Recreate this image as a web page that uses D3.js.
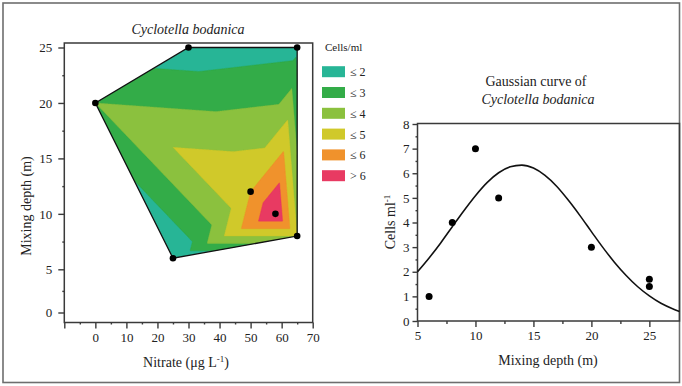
<!DOCTYPE html>
<html>
<head>
<meta charset="utf-8">
<script src="https://cdn.jsdelivr.net/npm/d3@7"></script>
<style>
  html, body { margin: 0; padding: 0; background: #fff; }
  svg { display: block; }
  text { font-family: "Liberation Serif", "Times New Roman", serif; fill: #222; }
</style>
</head>
<body>
<svg id="chart" width="682" height="386"></svg>
<script>
// Field samples: nitrate, mixing depth and cell density
const sampleNitrate = [25, 65, 58, 50, 0, 30, 65];
const sampleDepth   = [6, 8, 10, 12, 20, 25, 25];
const sampleCells   = [1, 4, 7, 5, 3, 1.4, 1.7];

// Contour classes (cells/ml)
const classThresholds = [2, 3, 4, 5, 6];
const classLabels = ["\u2264 2", "\u2264 3", "\u2264 4", "\u2264 5", "\u2264 6", "> 6"];
const classColors = ["#27b596", "#33ac48", "#8bc13e", "#d0c92a", "#f0922c", "#e83a62"];

// Fitted Gaussian response of cell density to mixing depth
const curveDepth = [5, 6, 7, 8, 9, 10, 11, 12, 13, 14, 15, 16, 17, 18, 19, 20, 21, 22, 23, 24, 25, 26, 27, 27.6];
const curveCells = [2.00, 2.56, 3.17, 3.83, 4.48, 5.09, 5.62, 6.02, 6.26, 6.33, 6.21, 5.91, 5.47, 4.91, 4.29, 3.63, 2.98, 2.38, 1.85, 1.39, 1.02, 0.72, 0.50, 0.39];

// Axis ticks
const mapXTicks = [-10, 0, 10, 20, 30, 40, 50, 60, 70];
const mapYTicks = [0, 5, 10, 15, 20, 25];
const fitXTicks = [5, 10, 15, 20, 25];
const fitYTicks = [0, 1, 2, 3, 4, 5, 6, 7, 8];

const svg = d3.select("#chart");

// outer border
svg.append("rect").attr("x", 3).attr("y", 3).attr("width", 676.5).attr("height", 379.5)
  .attr("fill", "none").attr("stroke", "#6e6e6e").attr("stroke-width", 1.6);

/* ---------------- Left panel: contour map ---------------- */
const mx = d3.scaleLinear().domain([-10, 70]).range([64.3, 312.7]);
const my = d3.scaleLinear().domain([0, 5, 25]).range([312.5, 269.3, 47.5]);
const mapFrame = { x0: 64.3, x1: 312.7, y0: 43, y1: 322.5 };

const pts = sampleNitrate.map((n, i) => [n, sampleDepth[i]]);
// triangulate in plotted (screen) space so both axes weigh alike
const ptsPx = pts.map(([x, y]) => [mx(x), my(y)]);
const delaunay = d3.Delaunay.from(ptsPx);
const tris = delaunay.triangles;

// linear interpolation over the triangulated samples (screen coordinates)
function fieldAt(x, y) {
  let best = null, bestMin = -Infinity;
  for (let t = 0; t < tris.length; t += 3) {
    const a = tris[t], b = tris[t + 1], c = tris[t + 2];
    const [x1, y1] = ptsPx[a], [x2, y2] = ptsPx[b], [x3, y3] = ptsPx[c];
    const det = (y2 - y3) * (x1 - x3) + (x3 - x2) * (y1 - y3);
    const l1 = ((y2 - y3) * (x - x3) + (x3 - x2) * (y - y3)) / det;
    const l2 = ((y3 - y1) * (x - x3) + (x1 - x3) * (y - y3)) / det;
    const l3 = 1 - l1 - l2;
    const mn = Math.min(l1, l2, l3);
    if (mn > bestMin) {
      bestMin = mn;
      best = l1 * sampleCells[a] + l2 * sampleCells[b] + l3 * sampleCells[c];
    }
  }
  return best;
}

// sample the surface on a pixel grid covering the map frame
const gx0 = mapFrame.x0, gy0 = mapFrame.y0, gstep = 0.5;
const gn = Math.ceil((mapFrame.x1 - mapFrame.x0) / gstep) + 1;
const gm = Math.ceil((mapFrame.y1 - mapFrame.y0) / gstep) + 1;
const grid = new Float64Array(gn * gm);
for (let j = 0; j < gm; j++) {
  for (let i = 0; i < gn; i++) {
    grid[j * gn + i] = fieldAt(gx0 + i * gstep, gy0 + j * gstep);
  }
}
const bands = d3.contours().size([gn, gm]).thresholds(classThresholds)(grid);
const gridProj = d3.geoTransform({
  point(x, y) { this.stream.point(gx0 + (x - 0.5) * gstep, gy0 + (y - 0.5) * gstep); }
});
const bandPath = d3.geoPath(gridProj);

const hullPx = delaunay.hullPolygon();
const hullLine = d3.line().curve(d3.curveLinearClosed);

svg.append("clipPath").attr("id", "hullClip")
  .append("path").attr("d", hullLine(hullPx));

const mapG = svg.append("g").attr("clip-path", "url(#hullClip)");
mapG.append("path").attr("d", hullLine(hullPx)).attr("fill", classColors[0]);
mapG.selectAll("path.band").data(bands).join("path")
  .attr("class", "band")
  .attr("d", bandPath)
  .attr("fill", (d, i) => classColors[i + 1])
  .attr("stroke", (d, i) => classColors[i + 1])
  .attr("stroke-width", 0.4);

svg.append("path").attr("d", hullLine(hullPx))
  .attr("fill", "none").attr("stroke", "#111").attr("stroke-width", 1.3);

svg.selectAll("circle.node").data(pts).join("circle")
  .attr("class", "node")
  .attr("cx", d => mx(d[0])).attr("cy", d => my(d[1])).attr("r", 3.3)
  .attr("fill", "#000");

// frame and axes
svg.append("rect").attr("x", mapFrame.x0).attr("y", mapFrame.y0)
  .attr("width", mapFrame.x1 - mapFrame.x0).attr("height", mapFrame.y1 - mapFrame.y0)
  .attr("fill", "none").attr("stroke", "#3a3a3a").attr("stroke-width", 1.5);

const mapXAxis = svg.append("g").attr("transform", `translate(0,${mapFrame.y1})`)
  .call(d3.axisBottom(mx).tickValues(mapXTicks).tickSize(6).tickPadding(4)
    .tickFormat(d => d < 0 ? "" : d));
const mapYAxis = svg.append("g").attr("transform", `translate(${mapFrame.x0},0)`)
  .call(d3.axisLeft(my).tickValues(mapYTicks).tickSize(6).tickPadding(6));
const mapYMinor = svg.append("g").attr("transform", `translate(${mapFrame.x0},0)`)
  .call(d3.axisLeft(my).tickValues([2.5, 7.5, 12.5, 17.5, 22.5]).tickSize(2).tickFormat(""));
const mapXMinor = svg.append("g").attr("transform", `translate(0,${mapFrame.y1})`)
  .call(d3.axisBottom(mx).tickValues([-5, 5, 15, 25, 35, 45, 55, 65]).tickSize(2).tickFormat(""));
[mapXAxis, mapYAxis, mapYMinor, mapXMinor].forEach(g => {
  g.select(".domain").remove();
  g.selectAll("line").attr("stroke", "#3a3a3a").attr("stroke-width", 1.4);
  g.selectAll("text").attr("font-size", 13).attr("fill", "#222")
    .attr("font-family", "'Liberation Serif', serif");
});

svg.append("text").attr("x", 188).attr("y", 34).attr("text-anchor", "middle")
  .attr("font-size", 14).attr("font-style", "italic").text("Cyclotella bodanica");

svg.append("text").attr("transform", "translate(31,206) rotate(-90)")
  .attr("text-anchor", "middle").attr("font-size", 14).text("Mixing depth (m)");

const nx = svg.append("text").attr("x", 186).attr("y", 367).attr("text-anchor", "middle")
  .attr("font-size", 14);
nx.append("tspan").text("Nitrate (\u03bcg L");
nx.append("tspan").attr("dy", -5).attr("font-size", 9).text("-1");
nx.append("tspan").attr("dy", 5).text(")");

// legend
const legend = svg.append("g");
legend.append("text").attr("x", 325).attr("y", 51).attr("font-size", 11).text("Cells/ml");
const rowY = d3.scaleLinear().domain([0, 1]).range([71.7, 92.5]);
classLabels.forEach((lab, i) => {
  legend.append("rect").attr("x", 322).attr("y", rowY(i) - 5.5).attr("width", 23).attr("height", 11)
    .attr("fill", classColors[i]);
  legend.append("text").attr("x", 350).attr("y", rowY(i) + 4.5).attr("font-size", 12)
    .attr("fill", "#444").text(lab);
});

/* ---------------- Right panel: Gaussian fit ---------------- */
const fx = d3.scaleLinear().domain([5, 27.6]).range([417.5, 679.5]);
const fy = d3.scaleLinear().domain([0, 8]).range([321, 124]);

svg.append("rect").attr("x", 417.5).attr("y", 123.5).attr("width", 262).attr("height", 197.5)
  .attr("fill", "none").attr("stroke", "#3a3a3a").attr("stroke-width", 1.5);

const fitXAxis = svg.append("g").attr("transform", "translate(0,321)")
  .call(d3.axisBottom(fx).tickValues(fitXTicks).tickSize(6).tickPadding(4));
const fitYAxis = svg.append("g").attr("transform", "translate(417.5,0)")
  .call(d3.axisLeft(fy).tickValues(fitYTicks).tickSize(5).tickPadding(3));
const fitXMinor = svg.append("g").attr("transform", "translate(0,321)")
  .call(d3.axisBottom(fx).tickValues([7.5, 12.5, 17.5, 22.5]).tickSize(3).tickFormat(""));
const fitYMinor = svg.append("g").attr("transform", "translate(417.5,0)")
  .call(d3.axisLeft(fy).tickValues(d3.range(0.5, 8, 1)).tickSize(2).tickFormat(""));
[fitXAxis, fitYAxis, fitXMinor, fitYMinor].forEach(g => {
  g.select(".domain").remove();
  g.selectAll("line").attr("stroke", "#3a3a3a").attr("stroke-width", 1.4);
  g.selectAll("text").attr("font-size", 13).attr("fill", "#222")
    .attr("font-family", "'Liberation Serif', serif");
});

const curve = d3.line().x((d, i) => fx(curveDepth[i])).y(d => fy(d)).curve(d3.curveMonotoneX);
svg.append("path").attr("d", curve(curveCells))
  .attr("fill", "none").attr("stroke", "#111").attr("stroke-width", 1.6);

svg.selectAll("circle.obs").data(sampleDepth).join("circle")
  .attr("class", "obs")
  .attr("cx", d => fx(d)).attr("cy", (d, i) => fy(sampleCells[i])).attr("r", 3.5)
  .attr("fill", "#000");

svg.append("text").attr("x", 536).attr("y", 86).attr("text-anchor", "middle")
  .attr("font-size", 14).text("Gaussian curve of");
svg.append("text").attr("x", 538).attr("y", 104).attr("text-anchor", "middle")
  .attr("font-size", 14).attr("font-style", "italic").text("Cyclotella bodanica");

svg.append("text").attr("x", 548).attr("y", 365).attr("text-anchor", "middle")
  .attr("font-size", 14).text("Mixing depth (m)");

const cy = svg.append("text").attr("transform", "translate(395,222) rotate(-90)")
  .attr("text-anchor", "middle").attr("font-size", 14);
cy.append("tspan").text("Cells ml");
cy.append("tspan").attr("dy", -5).attr("font-size", 9).text("-1");
</script>
</body>
</html>
